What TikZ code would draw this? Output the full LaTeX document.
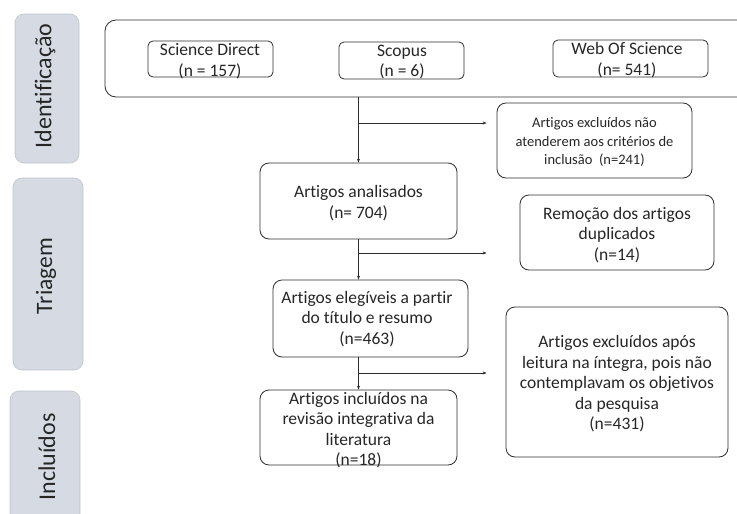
\documentclass[tikz,border=0pt]{standalone}
\usepackage{fontspec}
\setmainfont{Carlito}[Ligatures=NoCommon]
\usetikzlibrary{arrows.meta}
\definecolor{sidefill}{RGB}{214,219,227}
\definecolor{sidedraw}{RGB}{190,195,204}
\definecolor{linec}{RGB}{45,45,45}
\tikzset{
  side/.style={draw=sidedraw, fill=sidefill, rounded corners=9pt, line width=0.6pt},
  sidetxt/.style={rotate=90, font=\fontsize{24}{28}\selectfont, text=black!85},
  box/.style={draw=linec, rounded corners=9pt, line width=0.8pt, inner sep=0pt},
  sbox/.style={draw=linec, rounded corners=5pt, line width=0.8pt, inner sep=0pt},
  txt/.style={align=center, font=\fontsize{17.5}{20.5}\selectfont, inner sep=0pt, text=black!85},
  stxt/.style={align=center, font=\fontsize{14.5}{18.5}\selectfont, inner sep=0pt, text=black!85},
  arr/.style={draw=linec, line width=0.8pt, -{Stealth[length=4pt,width=3pt]}},
  ln/.style={draw=linec, line width=0.8pt}
}
\begin{document}
\begin{tikzpicture}[x=1pt,y=-1pt]
\useasboundingbox (0,0) rectangle (737,514);
% side labels
\node[side, minimum width=64, minimum height=149] (sideA) at (47,88.5) {};
\node[sidetxt] (sideAt) at (45,86) {Identificação};
\node[side, minimum width=70, minimum height=192] (sideB) at (48,274) {};
\node[sidetxt, font=\fontsize{23.5}{28}\selectfont] (sideBt) at (46,276) {Triagem};
\node[side, minimum width=70, minimum height=160] (sideC) at (45,471) {};
\node[sidetxt] (sideCt) at (47,457) {Incluídos};
% identification box
\node[box, rounded corners=11pt, minimum width=660, minimum height=77] (ident) at (435,58.5) {};
\node[sbox, minimum width=125, minimum height=36] (sd) at (210.5,59) {};
\node[txt] (sdt) at (210,61) {Science Direct\\(n = 157)};
\node[sbox, minimum width=125, minimum height=37] (sc) at (401.5,60.5) {};
\node[txt] (sct) at (402,62) {Scopus\\(n = 6)};
\node[sbox, minimum width=155, minimum height=37] (ws) at (630.5,58.5) {};
\node[txt] (wst) at (627,60) {Web Of Science\\(n= 541)};
% flow boxes
\node[box, minimum width=195, minimum height=75] (ex1) at (594.5,140.5) {};
\node[stxt] (ex1t) at (594.5,142) {Artigos excluídos não\\atenderem aos critérios de\\inclusão\ \ (n=241)};
\node[box, minimum width=197, minimum height=76] (ana) at (358.5,201) {};
\node[txt] (anat) at (358.5,203) {Artigos analisados\\(n= 704)};
\node[box, minimum width=194, minimum height=75] (rem) at (617,232.5) {};
\node[txt] (remt) at (617,235) {Remoção dos artigos\\duplicados\\(n=14)};
\node[box, minimum width=195, minimum height=77] (eli) at (370.5,318.5) {};
\node[txt] (elit) at (367,319) {Artigos elegíveis a partir\\do título e resumo\\(n=463)};
\node[box, minimum width=222, minimum height=150] (ex3) at (617,382) {};
\node[txt] (ex3t) at (617,384) {Artigos excluídos após\\leitura na íntegra, pois não\\contemplavam os objetivos\\da pesquisa\\(n=431)};
\node[box, minimum width=197, minimum height=75] (inc) at (358.5,427.5) {};
\node[txt] (inct) at (358.5,430) {Artigos incluídos na\\revisão integrativa da\\literatura\\(n=18)};
% connectors
\coordinate (b1) at (358,123);
\coordinate (b2) at (358,253);
\coordinate (b3) at (358,373);
\draw[arr] (ident.south -| ana.north) -- (ana.north);
\draw[arr] (b1) -- ([xshift=-10pt]b1 -| ex1.west);
\draw[arr] (ana.south) -- (ana.south |- eli.north);
\draw[arr] (b2) -- ([xshift=-33pt]b2 -| rem.west);
\draw[arr] (eli.south -| inc.north) -- (inc.north);
\draw[arr] (b3) -- ([xshift=-19pt]b3 -| ex3.west);
\end{tikzpicture}
\end{document}
